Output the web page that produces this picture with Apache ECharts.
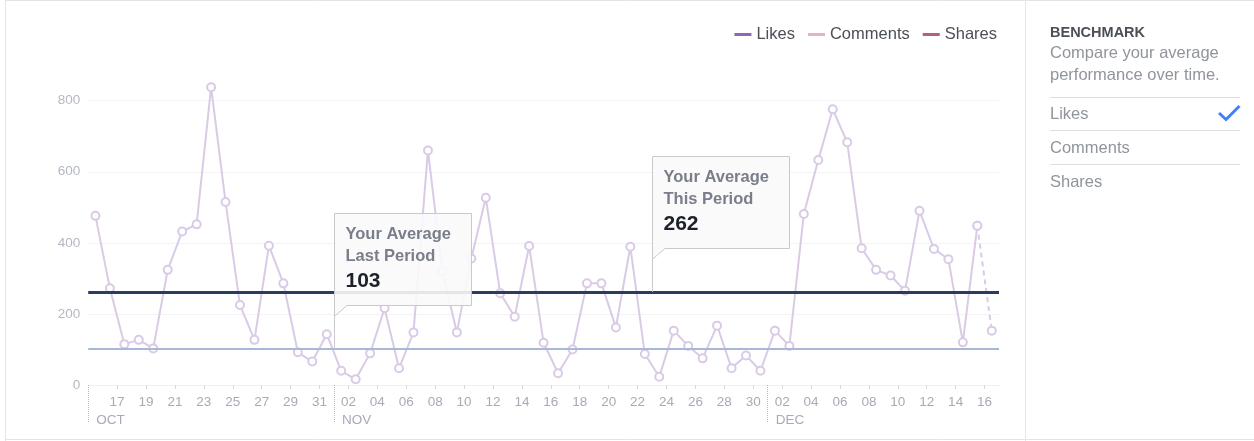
<!DOCTYPE html>
<html><head><meta charset="utf-8">
<script src="https://cdn.jsdelivr.net/npm/echarts@6/dist/echarts.min.js"></script>
<style>html,body{margin:0;padding:0;background:#fff}#c{width:1254px;height:441px}</style>
</head><body><div id="c"></div>
<script>
// ---------- data ----------
const dates = [
  '10-15','10-16','10-17','10-18','10-19','10-20','10-21','10-22','10-23','10-24','10-25','10-26','10-27','10-28','10-29','10-30','10-31',
  '11-01','11-02','11-03','11-04','11-05','11-06','11-07','11-08','11-09','11-10','11-11','11-12','11-13','11-14','11-15','11-16','11-17','11-18','11-19','11-20','11-21','11-22','11-23','11-24','11-25','11-26','11-27','11-28','11-29','11-30',
  '12-01','12-02','12-03','12-04','12-05','12-06','12-07','12-08','12-09','12-10','12-11','12-12','12-13','12-14','12-15','12-16'
];
const likes = [
  476,272,115,127,103,324,432,452,838,515,225,127,392,286,92,66,143,
  40,16,89,216,47,148,660,320,148,356,527,258,192,391,119,33,100,286,286,162,389,87,23,153,110,75,167,47,83,40,
  153,110,481,633,776,683,385,324,308,265,490,383,354,120,448,153
];
const comments = [];
const shares = [];
const avgLastPeriod = 103;
const avgThisPeriod = 262;
const calloutTitles = ['Last Period', 'This Period'];
const calloutDays = ['11-01', '11-23'];
const monthNames = {'10':'OCT','11':'NOV','12':'DEC'};
const legendNames = ['Likes','Comments','Shares'];
const panelTitle = 'BENCHMARK';
const panelText = ['Compare your average','performance over time.'];
const panelItems = ['Likes','Comments','Shares'];

// ---------- derived ----------
const n = likes.length;
const solidPts = likes.slice(0, n - 1).map((v, i) => [i + 0.5, v]);
const tailPts = likes.slice(n - 2).map((v, k) => [n - 2 + k + 0.5, v]);
const monthStarts = dates.map((d, i) => (i === 0 || d.slice(0, 2) !== dates[i - 1].slice(0, 2)) ? i : -1).filter(i => i >= 0);
const dayTicks = dates.map((d, i) => i).filter(i => i > 0 && i % 2 === 0);
const calloutData = [
  [dates.indexOf(calloutDays[0]), avgLastPeriod],
  [dates.indexOf(calloutDays[1]), avgThisPeriod]
];

const FONT = '"Liberation Sans", Arial, Helvetica, sans-serif';
const chart = echarts.init(document.getElementById('c'), null, {renderer: 'canvas'});

const legendColors = ['#8f66b8', '#e4b1c8', '#b65f7e'];
const lineColor = '#d9cbe6';
const boxFill = 'rgba(250,250,250,0.9)';
const boxStroke = '#c8c9cc';

function renderCallout(params, api) {
  const p = api.coord([api.value(0), api.value(1)]);
  const ax = Math.round(p[0]) + 0.5, ay = p[1];
  const top = Math.round(ay - 135.5) + 0.5, w = 137, h = 92;
  const tailY = top + h + 10.7;
  const tx = ax + 11;
  const value = api.value(1);
  return {
    type: 'group',
    children: [
      {type: 'polygon', shape: {points: [[ax, top], [ax + w, top], [ax + w, top + h], [ax + 12.5, top + h], [ax, tailY]]},
        style: {fill: boxFill, stroke: boxStroke, lineWidth: 1}},
      {type: 'line', shape: {x1: ax, y1: tailY, x2: ax, y2: ay}, style: {stroke: boxStroke, lineWidth: 1}},
      {type: 'text', x: tx, y: top + 21, style: {text: 'Your Average', fill: '#7a7e8a', font: 'bold 16.5px ' + FONT, verticalAlign: 'middle'}},
      {type: 'text', x: tx, y: top + 42.5, style: {text: calloutTitles[params.dataIndex], fill: '#7a7e8a', font: 'bold 16.5px ' + FONT, verticalAlign: 'middle'}},
      {type: 'text', x: tx, y: top + 68, style: {text: String(value), fill: '#1d2129', font: 'bold 21px ' + FONT, verticalAlign: 'middle'}}
    ]
  };
}

const option = {
  animation: false,
  backgroundColor: '#ffffff',
  textStyle: {fontFamily: FONT},
  grid: {left: 88.2, right: 255, top: 100.7, bottom: 56, containLabel: false},
  legend: {
    right: 252, top: 21, itemWidth: 17, itemHeight: 3, itemGap: 13, icon: 'rect',
    textStyle: {color: '#4b4f56', fontSize: 16.5, fontFamily: FONT},
    data: legendNames.map((nm, i) => ({
      name: nm,
      itemStyle: {color: legendColors[i], borderWidth: 0, opacity: 1},
      lineStyle: {color: legendColors[i], opacity: 1}
    })),
    selectedMode: false
  },
  xAxis: [
    {
      type: 'value', min: 0, max: dates.length, position: 'bottom',
      axisLine: {show: true, lineStyle: {color: '#f0f0f2'}},
      axisTick: {show: true, customValues: dayTicks, length: 4, lineStyle: {color: '#d8d9de'}},
      axisLabel: {
        customValues: dayTicks, color: '#a7abb7', fontSize: 13.5, margin: 10,
        formatter: v => dates[v] ? dates[v].slice(3) : ''
      },
      splitLine: {show: false}
    },
    {
      type: 'value', min: 0, max: dates.length, position: 'bottom', offset: 0,
      axisLine: {show: false},
      axisTick: {show: true, customValues: monthStarts, length: 38, lineStyle: {color: '#b7bac3', type: 'dotted', width: 1}},
      axisLabel: {
        customValues: monthStarts, color: '#a7abb7', fontSize: 13.5, margin: 28.5, align: 'left', padding: [0, 0, 0, 8],
        formatter: v => dates[v] ? monthNames[dates[v].slice(0, 2)] : ''
      },
      splitLine: {show: false}
    }
  ],
  yAxis: {
    type: 'value', min: 0, max: 800, interval: 200,
    axisLine: {show: false}, axisTick: {show: false},
    axisLabel: {color: '#b4b8c2', fontSize: 13.5, margin: 8},
    splitLine: {lineStyle: {color: '#f3f3f5', width: 1}}
  },
  series: [
    {
      name: 'avg', type: 'line', xAxisIndex: 0, data: [], silent: true, z: 1,
      markLine: {
        silent: true, symbol: ['none', 'none'], label: {show: false},
        data: [
          {yAxis: avgThisPeriod, lineStyle: {color: '#2d3b5f', width: 3, type: 'solid'}},
          {yAxis: avgLastPeriod, lineStyle: {color: '#a9b8d8', width: 2, type: 'solid'}}
        ]
      }
    },
    {
      name: legendNames[0], type: 'line', xAxisIndex: 0, data: solidPts, clip: false, z: 3,
      symbol: 'emptyCircle', symbolSize: 8,
      lineStyle: {color: lineColor, width: 2},
      itemStyle: {color: lineColor, borderColor: lineColor, borderWidth: 2}
    },
    {
      name: 'likes-partial', type: 'line', xAxisIndex: 0, data: tailPts, clip: false, z: 3,
      symbol: 'emptyCircle', symbolSize: 8,
      lineStyle: {color: lineColor, width: 2, type: [5, 4]},
      itemStyle: {color: lineColor, borderColor: lineColor, borderWidth: 2}
    },
    {name: legendNames[1], type: 'line', xAxisIndex: 0, data: comments, itemStyle: {color: legendColors[1]}},
    {name: legendNames[2], type: 'line', xAxisIndex: 0, data: shares, itemStyle: {color: legendColors[2]}},
    {
      name: 'callouts', type: 'custom', xAxisIndex: 0, yAxisIndex: 0, data: calloutData,
      renderItem: renderCallout, z: 20, silent: true, clip: false
    }
  ],
  graphic: {
    elements: (function () {
      const gray = '#90949c';
      return [
        {type: 'line', shape: {x1: 5.5, y1: 0, x2: 5.5, y2: 441}, style: {stroke: '#e3e4e7', lineWidth: 1}},
        {type: 'line', shape: {x1: 5, y1: 0.5, x2: 1254, y2: 0.5}, style: {stroke: '#e3e4e7', lineWidth: 1}},
        {type: 'line', shape: {x1: 5, y1: 439.5, x2: 1254, y2: 439.5}, style: {stroke: '#e3e4e7', lineWidth: 1}},
        {type: 'line', shape: {x1: 1025.5, y1: 0, x2: 1025.5, y2: 441}, style: {stroke: '#e6e7ea', lineWidth: 1}},
        {type: 'text', x: 1050, y: 33, style: {text: panelTitle, fill: '#4b4f56', font: 'bold 14.5px ' + FONT, verticalAlign: 'middle'}},
        {type: 'text', x: 1050, y: 53.5, style: {text: panelText[0], fill: gray, font: '16.5px ' + FONT, verticalAlign: 'middle'}},
        {type: 'text', x: 1050, y: 75, style: {text: panelText[1], fill: gray, font: '16.5px ' + FONT, verticalAlign: 'middle'}},
        {type: 'line', shape: {x1: 1050, y1: 97.5, x2: 1240, y2: 97.5}, style: {stroke: '#dddfe2', lineWidth: 1}},
        {type: 'text', x: 1050, y: 114, style: {text: panelItems[0], fill: gray, font: '16.5px ' + FONT, verticalAlign: 'middle'}},
        {type: 'polyline', shape: {points: [[1219, 113], [1226, 119.5], [1239.5, 106]]}, style: {stroke: '#4080ff', lineWidth: 3, fill: null}},
        {type: 'line', shape: {x1: 1050, y1: 130.5, x2: 1240, y2: 130.5}, style: {stroke: '#dddfe2', lineWidth: 1}},
        {type: 'text', x: 1050, y: 148, style: {text: panelItems[1], fill: gray, font: '16.5px ' + FONT, verticalAlign: 'middle'}},
        {type: 'line', shape: {x1: 1050, y1: 164.5, x2: 1240, y2: 164.5}, style: {stroke: '#dddfe2', lineWidth: 1}},
        {type: 'text', x: 1050, y: 182, style: {text: panelItems[2], fill: gray, font: '16.5px ' + FONT, verticalAlign: 'middle'}}
      ];
    })()
  }
};
chart.setOption(option);
</script>
</body></html>
